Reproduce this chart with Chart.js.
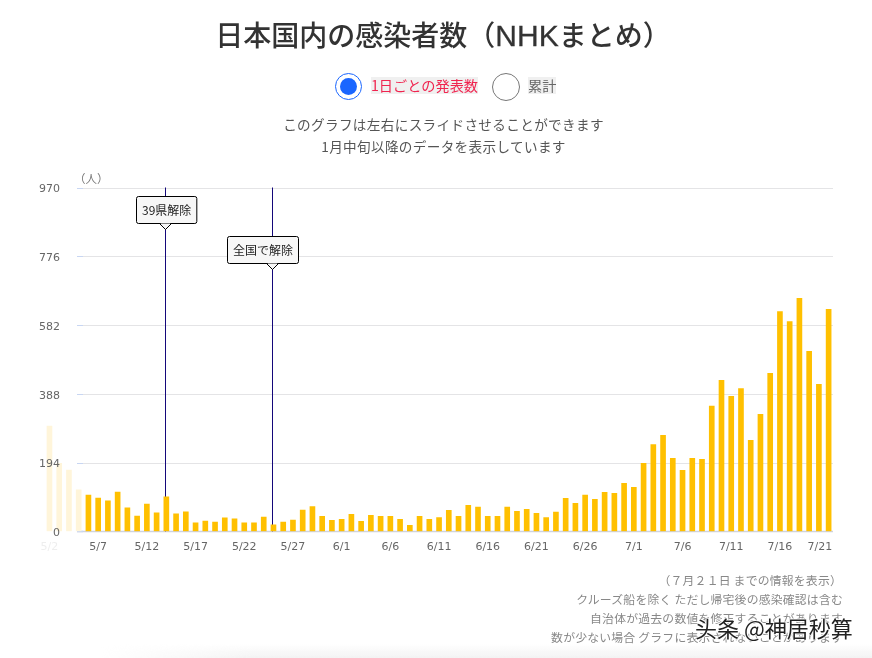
<!DOCTYPE html>
<html lang="ja">
<head>
<meta charset="utf-8">
<title>日本国内の感染者数</title>
<script src="https://cdn.jsdelivr.net/npm/chart.js@4"></script>
<style>
  html, body { margin: 0; padding: 0; background: #fff; }
  body { position: relative; width: 872px; height: 658px; overflow: hidden; font-family: "Noto Sans CJK JP", sans-serif; }
  canvas { position: absolute; left: 0; top: 0; }
  .abs { position: absolute; white-space: nowrap; }
  #title { left: 7px; width: 872px; top: 14px; text-align: center; font-size: 28px; line-height: 40px; font-weight: 500; color: #333; }
  #title span { font-family: "Liberation Sans", sans-serif; font-size: 30px; -webkit-text-stroke: .3px #333; }
  .radio { width: 26px; height: 26px; border-radius: 50%; border: 1px solid #777; top: 73px; }
  #radio1 { left: 335px; border: 1.5px solid #1a66ff; width: 25px; height: 25px; }
  #radio1 i { position: absolute; left: 4px; top: 4px; width: 17px; height: 17px; border-radius: 50%; background: #1a66ff; }
  #radio2 { left: 492px; }
  .radioText { top: 77px; font-size: 14.2px; line-height: 17px; background: #f0f0f0; }
  .note { left: 0; width: 887px; text-align: center; font-size: 13.6px; color: #555; line-height: 20px; letter-spacing: .35px; }
  .foot { right: 29px; text-align: right; font-size: 11.85px; color: #888; line-height: 18px; letter-spacing: .2px; }
  #unit { left: 74px; top: 170px; font-size: 11.5px; color: #777; }
  #mark { left: 695px; top: 612px; font-family: "Noto Sans CJK SC", sans-serif; font-size: 22px; line-height: 30px; color: #222;
    text-shadow: 1px 0 1px #fff, -1px 0 1px #fff, 0 1px 1px #fff, 0 -1px 1px #fff; }
  #shade { left: 100px; top: 644px; width: 772px; height: 14px; background: linear-gradient(#fff0, #f3f3f3);
    -webkit-mask-image: linear-gradient(to right, transparent, #000 20%); }
</style>
</head>
<body>
<canvas id="chart" width="872" height="658"></canvas>
<div class="abs" id="shade"></div>
<div class="abs" id="title">日本国内の感染者数（<span>NHK</span>まとめ）</div>
<div class="abs radio" id="radio1"><i></i></div>
<div class="abs radioText" style="left:371px;color:#f0244f">1日ごとの発表数</div>
<div class="abs radio" id="radio2"></div>
<div class="abs radioText" style="left:528px;color:#666">累計</div>
<div class="abs note" style="top:114px">このグラフは左右にスライドさせることができます</div>
<div class="abs note" style="top:136px">1月中旬以降のデータを表示しています</div>
<div class="abs" id="unit">（人）</div>
<div class="abs foot" style="top:571px;right:30px">（７月２１日 までの情報を表示）</div>
<div class="abs foot" style="top:590px">クルーズ船を除く ただし帰宅後の感染確認は含む</div>
<div class="abs foot" style="top:609px">自治体が過去の数値を修正することがあります</div>
<div class="abs foot" style="top:628px">数が少ない場合 グラフに表示されないことがあります</div>
<div class="abs" id="mark">头条 @神居秒算</div>
<script>
// 日付ラベル
const days = [
  '5/2','5/3','5/4','5/5','5/6','5/7','5/8','5/9','5/10','5/11','5/12','5/13','5/14','5/15','5/16',
  '5/17','5/18','5/19','5/20','5/21','5/22','5/23','5/24','5/25','5/26','5/27','5/28','5/29','5/30','5/31',
  '6/1','6/2','6/3','6/4','6/5','6/6','6/7','6/8','6/9','6/10','6/11','6/12','6/13','6/14','6/15',
  '6/16','6/17','6/18','6/19','6/20','6/21','6/22','6/23','6/24','6/25','6/26','6/27','6/28','6/29','6/30',
  '7/1','7/2','7/3','7/4','7/5','7/6','7/7','7/8','7/9','7/10','7/11','7/12','7/13','7/14','7/15',
  '7/16','7/17','7/18','7/19','7/20','7/21'
];
// 1日ごとの発表数
const cases = [
  297,192,173,117,102,94,86,111,66,43,77,52,97,49,55,
  24,29,26,38,35,24,24,40,18,26,32,60,70,42,31,
  34,48,28,45,42,42,34,17,42,34,39,59,42,73,68,
  42,42,68,56,62,51,39,54,93,79,102,90,110,107,135,
  124,192,245,271,206,172,206,203,353,426,381,403,257,330,446,
  620,592,657,508,415,626
];
const yTicks = [0, 194, 388, 582, 776, 970];
const eventDays = ['5/14', '5/25'];
const eventTexts = ['39県解除', '全国で解除'];

const GOLD = '#ffc000';
const FADED_GOLD = '#fff5da';
const LINE_NAVY = '#14087a';
const FADED_BARS = 4; // 左端はスライドで薄くなる
const GRID_LEFT = 77;
const Y_LABEL_RIGHT = 68;
const calloutPlace = [{ dx: 0.5, top: 8.5 }, { dx: -9.5, top: 48.5 }];

const marks = {
  id: 'marks',
  // 目盛りの数字をグラフの内側に寄せる
  afterLayout(chart) {
    chart.scales.y.right = Y_LABEL_RIGHT;
  },
  beforeDatasetsDraw(chart) {
    const { ctx, chartArea, scales: { x, y } } = chart;
    ctx.save();
    yTicks.forEach(v => {
      const py = Math.round(y.getPixelForValue(v)) + 0.5;
      ctx.strokeStyle = v === 0 ? '#cfd3de' : '#e4e4e6';
      ctx.lineWidth = v === 0 ? 1.5 : 1;
      ctx.beginPath();
      ctx.moveTo(GRID_LEFT, py);
      ctx.lineTo(chartArea.right - 0.5, py);
      ctx.stroke();
      ctx.strokeStyle = '#c8d6f2';
      ctx.beginPath();
      ctx.moveTo(GRID_LEFT, py);
      ctx.lineTo(GRID_LEFT + 6, py);
      ctx.stroke();
    });
    ctx.strokeStyle = LINE_NAVY;
    ctx.lineWidth = 1;
    eventDays.forEach(d => {
      const px = Math.round(x.getPixelForValue(days.indexOf(d)) - 1) + 0.5;
      ctx.beginPath();
      ctx.moveTo(px, chartArea.top);
      ctx.lineTo(px, chartArea.bottom);
      ctx.stroke();
    });
    ctx.restore();
  },
  afterDatasetsDraw(chart) {
    const { ctx, chartArea, scales: { x } } = chart;
    ctx.save();
    ctx.font = '12px "Noto Sans CJK JP"';
    eventDays.forEach((d, i) => {
      const px = Math.round(x.getPixelForValue(days.indexOf(d)) - 1) + 0.5;
      const w = ctx.measureText(eventTexts[i]).width + 11;
      const h = 27;
      const left = Math.round(px + calloutPlace[i].dx - w / 2) + 0.5;
      const top = Math.round(chartArea.top + calloutPlace[i].top) + 0.5;
      ctx.beginPath();
      ctx.roundRect(left, top, w, h, 2);
      ctx.fillStyle = '#f7f7f7';
      ctx.fill();
      ctx.strokeStyle = '#000';
      ctx.lineWidth = 1;
      ctx.stroke();
      // 吹き出しの先
      ctx.beginPath();
      ctx.moveTo(px - 5, top + h);
      ctx.lineTo(px, top + h + 6);
      ctx.lineTo(px + 5, top + h);
      ctx.closePath();
      ctx.fill();
      ctx.beginPath();
      ctx.moveTo(px - 6, top + h);
      ctx.lineTo(px, top + h + 6);
      ctx.lineTo(px + 6, top + h);
      ctx.stroke();
      ctx.fillStyle = '#222';
      ctx.textAlign = 'center';
      ctx.textBaseline = 'middle';
      ctx.fillText(eventTexts[i], left + w / 2, top + h / 2);
    });
    ctx.restore();
  }
};

new Chart(document.getElementById('chart'), {
  type: 'bar',
  data: {
    labels: days,
    datasets: [{
      label: '1日ごとの発表数',
      data: cases,
      barThickness: 5,
      backgroundColor: c => (c.dataIndex < FADED_BARS ? FADED_GOLD : GOLD)
    }]
  },
  options: {
    responsive: false,
    animation: false,
    layout: { padding: { top: 187.5, right: 38.5, bottom: 96.7 } },
    plugins: { legend: { display: false }, tooltip: { enabled: false } },
    scales: {
      x: {
        afterFit: s => { s.height = 30; },
        grid: { display: false },
        border: { display: false },
        ticks: {
          autoSkip: false,
          maxRotation: 0,
          padding: 1,
          font: { family: 'DejaVu Sans', size: 11 },
          color: c => (c.index === 0 ? '#eeeeee' : '#666'),
          callback(v, i) {
            if (i % 5 !== 0) return '';
            // 最後のラベルは右端に収める
            return i === days.length - 1 ? days[i] + '     ' : days[i];
          }
        }
      },
      y: {
        min: 0,
        max: 970,
        afterFit: s => { s.width = 44.6; },
        afterBuildTicks: s => { s.ticks = yTicks.map(value => ({ value })); },
        grid: { display: false },
        border: { display: false },
        ticks: {
          z: 1,
          padding: 0,
          labelOffset: 2,
          font: { family: 'DejaVu Sans', size: 11 },
          color: '#666'
        }
      }
    }
  },
  plugins: [marks]
});
</script>
</body>
</html>
